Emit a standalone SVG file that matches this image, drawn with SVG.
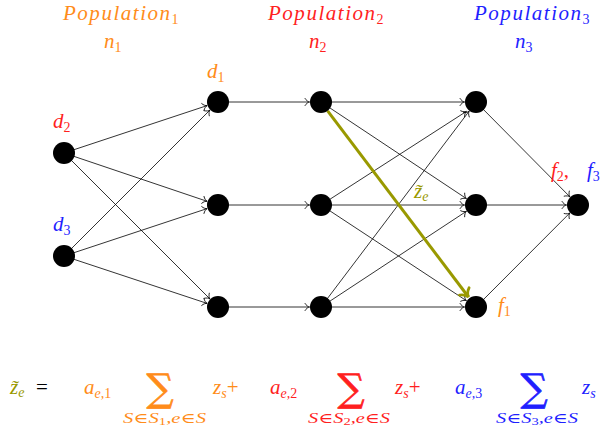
<svg xmlns="http://www.w3.org/2000/svg" width="605" height="434" viewBox="0 0 605 434">
<defs>
<marker id="ar" markerUnits="userSpaceOnUse" markerWidth="12" markerHeight="12" viewBox="-6 -6 12 12" refX="0" refY="0" orient="auto" overflow="visible">
<path d="M -4.5,-3.6 C -3.2,-1.3 -1.2,-0.3 0,0 C -1.2,0.3 -3.2,1.3 -4.5,3.6" fill="none" stroke="#000" stroke-width="0.8" stroke-linecap="round"/>
</marker>
<marker id="arg" markerUnits="userSpaceOnUse" markerWidth="20" markerHeight="20" viewBox="-10 -10 20 20" refX="0" refY="0" orient="auto" overflow="visible">
<path d="M -7,-6 C -5,-2 -2,-0.5 0,0 C -2,0.5 -5,2 -7,6" fill="none" stroke="#999900" stroke-width="2.8" stroke-linecap="round"/>
</marker>
</defs>
<style>
.e{stroke:#000;stroke-width:0.8;fill:none;marker-end:url(#ar)}
.n{fill:#000}
.o{fill:#ff8c1a}
.r{fill:#ff1f1f}
.b{fill:#1f1fff}
.g{fill:#999900}
.k{fill:#000000}
</style>
<g id="connectors">
<line class="e" x1="64" y1="153" x2="207.1" y2="105.6"/>
<line class="e" x1="64" y1="153" x2="207.1" y2="201.3"/>
<line class="e" x1="64" y1="153" x2="209.9" y2="298.9"/>
<line class="e" x1="64" y1="256" x2="209.9" y2="110.1"/>
<line class="e" x1="64" y1="256" x2="207.1" y2="208.6"/>
<line class="e" x1="64" y1="256" x2="207.1" y2="303.4"/>
<line class="e" x1="218" y1="102" x2="309.5" y2="102"/>
<line class="e" x1="218" y1="205" x2="309.5" y2="205"/>
<line class="e" x1="218" y1="307" x2="309.5" y2="307"/>
<line class="e" x1="321" y1="102" x2="464.5" y2="102"/>
<line class="e" x1="321" y1="102" x2="466.4" y2="198.6"/>
<line class="e" x1="321" y1="205" x2="466.4" y2="111.4"/>
<line class="e" x1="321" y1="205" x2="464.5" y2="205"/>
<line class="e" x1="321" y1="205" x2="466.4" y2="300.7"/>
<line class="e" x1="321" y1="307" x2="469.1" y2="111.2"/>
<line class="e" x1="321" y1="307" x2="466.4" y2="211.3"/>
<line class="e" x1="321" y1="307" x2="464.5" y2="307"/>
<line class="e" x1="476" y1="102" x2="569.9" y2="196.8"/>
<line class="e" x1="476" y1="205" x2="566.5" y2="205"/>
<line class="e" x1="476" y1="307" x2="569.9" y2="212.9"/>
<line x1="327.6" y1="110.8" x2="468.5" y2="297" stroke="#999900" stroke-width="3" marker-end="url(#arg)"/>
</g>
<g id="d2"><circle class="n" cx="64" cy="153" r="11"/></g>
<g id="d3"><circle class="n" cx="64" cy="256" r="11"/></g>
<g id="a1"><circle class="n" cx="218" cy="102" r="11"/></g>
<g id="a2"><circle class="n" cx="218" cy="205" r="11"/></g>
<g id="a3"><circle class="n" cx="218" cy="307" r="11"/></g>
<g id="b1"><circle class="n" cx="321" cy="102" r="11"/></g>
<g id="b2"><circle class="n" cx="321" cy="205" r="11"/></g>
<g id="b3"><circle class="n" cx="321" cy="307" r="11"/></g>
<g id="c1"><circle class="n" cx="476" cy="102" r="11"/></g>
<g id="c2"><circle class="n" cx="476" cy="205" r="11"/></g>
<g id="c3"><circle class="n" cx="476" cy="307" r="11"/></g>
<g id="sink"><circle class="n" cx="578" cy="205" r="11"/></g>
<g id="labels" font-family="Liberation Serif, DejaVu Serif, serif" font-style="italic" font-size="21">
<text class="o" x="63" y="20"><tspan textLength="107" lengthAdjust="spacing">Population</tspan><tspan font-size="14" font-style="normal" dy="4">1</tspan></text>
<text class="o" x="104" y="48">n<tspan font-size="14" font-style="normal" dy="4">1</tspan></text>
<text class="r" x="268" y="20"><tspan textLength="107" lengthAdjust="spacing">Population</tspan><tspan font-size="14" font-style="normal" dy="4">2</tspan></text>
<text class="r" x="309" y="48">n<tspan font-size="14" font-style="normal" dy="4">2</tspan></text>
<text class="b" x="474" y="20"><tspan textLength="107" lengthAdjust="spacing">Population</tspan><tspan font-size="14" font-style="normal" dy="4">3</tspan></text>
<text class="b" x="515" y="48">n<tspan font-size="14" font-style="normal" dy="4">3</tspan></text>
<text class="o" x="207" y="78">d<tspan font-size="14" font-style="normal" dy="4">1</tspan></text>
<text class="r" x="53" y="128">d<tspan font-size="14" font-style="normal" dy="4">2</tspan></text>
<text class="b" x="53" y="231">d<tspan font-size="14" font-style="normal" dy="4">3</tspan></text>
<text class="o" x="498" y="312">f<tspan font-size="14" font-style="normal" dy="4">1</tspan></text>
<text class="r" x="551" y="177">f<tspan font-size="14" font-style="normal" dy="4">2</tspan><tspan font-style="normal" dy="-4">,</tspan></text>
<text class="b" x="587" y="177">f<tspan font-size="14" font-style="normal" dy="4">3</tspan></text>
<text class="g" x="414" y="198">z̃<tspan font-size="14" dy="3">e</tspan></text>
</g>
<g id="formula" font-family="Liberation Serif, DejaVu Serif, serif" font-style="italic" font-size="21">
<text class="g" x="10" y="394">z̃<tspan font-size="14" dy="3">e</tspan></text>
<text class="k" x="36" y="394" font-style="normal" fill="#000">=</text>
<text class="o" x="84" y="394">a<tspan font-size="14" dy="4">e,</tspan><tspan font-size="14" font-style="normal">1</tspan></text>
<text class="o" x="160" y="401" font-family="DejaVu Serif, serif" font-style="normal" font-size="38" text-anchor="middle" stroke="#ff8c1a" stroke-width="0.7">∑</text>
<text class="o" x="123" y="423" font-size="14" textLength="83" lengthAdjust="spacingAndGlyphs">S<tspan font-style="normal">∈</tspan>S<tspan font-size="10" font-style="normal" dy="2">1</tspan><tspan dy="-2">,e</tspan><tspan font-style="normal">∈</tspan>S</text>
<text class="o" x="213" y="394">z<tspan font-size="14" dy="4">s</tspan><tspan font-style="normal" dy="-4">+</tspan></text>
<text class="r" x="270" y="394">a<tspan font-size="14" dy="4">e,</tspan><tspan font-size="14" font-style="normal">2</tspan></text>
<text class="r" x="351" y="401" font-family="DejaVu Serif, serif" font-style="normal" font-size="38" text-anchor="middle" stroke="#ff1f1f" stroke-width="0.7">∑</text>
<text class="r" x="308" y="423" font-size="14" textLength="82" lengthAdjust="spacingAndGlyphs">S<tspan font-style="normal">∈</tspan>S<tspan font-size="10" font-style="normal" dy="2">2</tspan><tspan dy="-2">,e</tspan><tspan font-style="normal">∈</tspan>S</text>
<text class="r" x="395" y="394">z<tspan font-size="14" dy="4">s</tspan><tspan font-style="normal" dy="-4">+</tspan></text>
<text class="b" x="455" y="394">a<tspan font-size="14" dy="4">e,</tspan><tspan font-size="14" font-style="normal">3</tspan></text>
<text class="b" x="534" y="401" font-family="DejaVu Serif, serif" font-style="normal" font-size="38" text-anchor="middle" stroke="#1f1fff" stroke-width="0.7">∑</text>
<text class="b" x="496" y="423" font-size="14" textLength="82" lengthAdjust="spacingAndGlyphs">S<tspan font-style="normal">∈</tspan>S<tspan font-size="10" font-style="normal" dy="2">3</tspan><tspan dy="-2">,e</tspan><tspan font-style="normal">∈</tspan>S</text>
<text class="b" x="582" y="394">z<tspan font-size="14" dy="4">s</tspan></text>
</g>
</svg>
